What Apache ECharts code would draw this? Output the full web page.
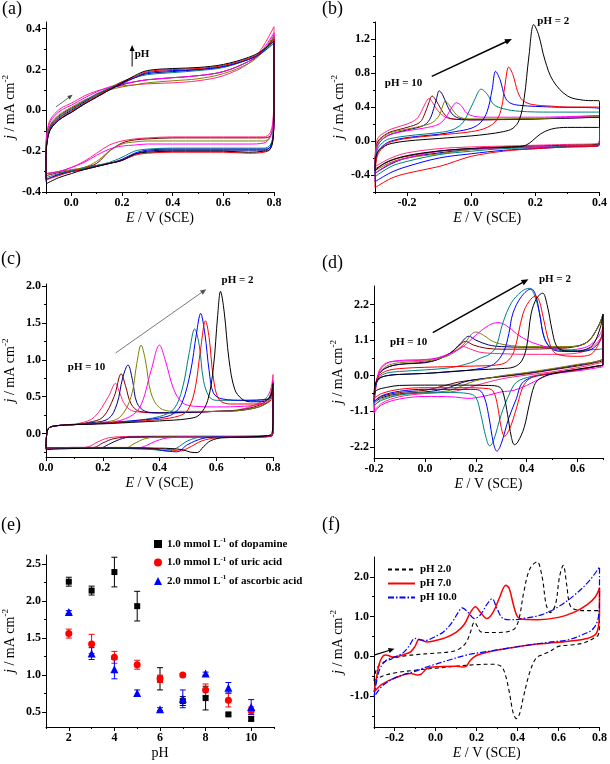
<!DOCTYPE html>
<html><head><meta charset="utf-8">
<script src="https://cdn.jsdelivr.net/npm/echarts@6/dist/echarts.min.js"></script>
<style>html,body{margin:0;padding:0;background:#fff}#c{width:610px;height:764px}</style>
</head><body><div id="c"></div>
<script>
// ---------------- DATA ----------------
// pH order of the CV families (a)-(d)
const PH_LIST = [2, 3, 4, 5, 6, 7, 8, 9, 10];

// (a) blank electrode CVs: shared potential grid (forward then reverse), current arrays per pH
const A_E = [-0.1,-0.1,-0.095,-0.085,-0.065,-0.035,0,0.05,0.1,0.15,0.2,0.25,0.3,0.4,0.5,0.6,0.7,0.75,0.8,
             0.8,0.797,0.785,0.76,0.7,0.6,0.5,0.4,0.3,0.25,0.2,0.15,0.1,0.05,0,-0.05,-0.1];
const A_PH2  = [-0.34,-0.22,-0.15,-0.1,-0.065,-0.035,-0.01,0.03,0.065,0.1,0.135,0.17,0.195,0.205,0.21,0.225,0.26,0.29,0.34,
                0.0,-0.13,-0.19,-0.2,-0.205,-0.2,-0.2,-0.2,-0.205,-0.215,-0.245,-0.26,-0.275,-0.29,-0.31,-0.33,-0.36];
const A_PH3  = [-0.34,-0.21,-0.145,-0.095,-0.06,-0.03,-0.005,0.035,0.07,0.105,0.14,0.165,0.19,0.2,0.205,0.22,0.255,0.285,0.35,
                0.0,-0.13,-0.19,-0.205,-0.21,-0.205,-0.205,-0.205,-0.21,-0.22,-0.245,-0.26,-0.275,-0.29,-0.3,-0.32,-0.34];
const A_PH4  = [-0.35,-0.22,-0.15,-0.1,-0.065,-0.035,-0.01,0.03,0.065,0.1,0.13,0.16,0.185,0.195,0.2,0.215,0.25,0.28,0.33,
                0.0,-0.12,-0.18,-0.19,-0.19,-0.19,-0.19,-0.19,-0.195,-0.21,-0.24,-0.26,-0.275,-0.29,-0.3,-0.315,-0.34];
const A_PH5  = [-0.33,-0.2,-0.135,-0.085,-0.05,-0.02,0.005,0.045,0.08,0.11,0.14,0.16,0.175,0.185,0.195,0.21,0.25,0.28,0.34,
                0.02,-0.11,-0.17,-0.185,-0.185,-0.185,-0.185,-0.185,-0.19,-0.2,-0.23,-0.255,-0.27,-0.285,-0.295,-0.31,-0.33];
const A_PH6  = [-0.3,-0.17,-0.11,-0.06,-0.025,0.005,0.025,0.06,0.09,0.115,0.13,0.14,0.15,0.16,0.17,0.19,0.24,0.29,0.38,
                0.1,-0.05,-0.13,-0.16,-0.165,-0.165,-0.165,-0.165,-0.165,-0.17,-0.175,-0.19,-0.22,-0.255,-0.28,-0.3,-0.31];
const A_PH7  = [-0.31,-0.19,-0.125,-0.075,-0.04,-0.01,0.015,0.05,0.075,0.1,0.115,0.125,0.135,0.145,0.155,0.18,0.23,0.28,0.37,
                0.08,-0.07,-0.13,-0.15,-0.15,-0.15,-0.15,-0.15,-0.15,-0.155,-0.165,-0.2,-0.25,-0.28,-0.29,-0.3,-0.31];
const A_PH8  = [-0.33,-0.21,-0.14,-0.09,-0.055,-0.025,0.0,0.04,0.075,0.105,0.135,0.16,0.18,0.19,0.2,0.215,0.25,0.285,0.35,
                0.0,-0.12,-0.18,-0.195,-0.195,-0.195,-0.195,-0.195,-0.2,-0.215,-0.245,-0.26,-0.27,-0.285,-0.3,-0.315,-0.34];
const A_PH9  = [-0.32,-0.2,-0.13,-0.08,-0.045,-0.015,0.01,0.045,0.08,0.105,0.125,0.14,0.15,0.16,0.17,0.19,0.24,0.28,0.36,
                0.05,-0.08,-0.125,-0.135,-0.135,-0.135,-0.135,-0.135,-0.14,-0.145,-0.16,-0.2,-0.26,-0.28,-0.295,-0.305,-0.32];
const A_PH10 = [-0.29,-0.16,-0.1,-0.05,-0.015,0.015,0.035,0.07,0.095,0.11,0.12,0.125,0.13,0.135,0.145,0.17,0.23,0.3,0.41,
                0.12,-0.03,-0.11,-0.13,-0.13,-0.13,-0.13,-0.13,-0.135,-0.14,-0.15,-0.17,-0.21,-0.25,-0.28,-0.3,-0.31];

// (b) [E, j] pairs per pH
const B_PH2 = [[-0.3,-0.35],[-0.298,-0.2],[-0.29,-0.12],[-0.27,-0.06],[-0.25,-0.03],[-0.2,0.0],[-0.1,0.03],[0,0.06],[0.05,0.08],[0.1,0.11],[0.13,0.15],[0.15,0.25],[0.165,0.5],[0.18,1.0],[0.195,1.37],[0.21,1.25],[0.23,0.95],[0.255,0.71],[0.3,0.53],[0.35,0.48],[0.4,0.47],
  [0.4,0.16],[0.395,0.16],[0.3,0.16],[0.25,0.14],[0.215,0.08],[0.19,0.0],[0.17,-0.05],[0.14,-0.07],[0.05,-0.08],[-0.05,-0.1],[-0.15,-0.14],[-0.22,-0.19],[-0.27,-0.26],[-0.3,-0.35]];
const B_PH3 = [[-0.3,-0.55],[-0.298,-0.3],[-0.29,-0.15],[-0.27,-0.06],[-0.25,-0.01],[-0.2,0.03],[-0.1,0.07],[0,0.11],[0.05,0.16],[0.08,0.25],[0.095,0.4],[0.105,0.65],[0.117,0.87],[0.13,0.78],[0.145,0.58],[0.16,0.48],[0.19,0.43],[0.25,0.41],[0.3,0.4],[0.4,0.4],
  [0.4,-0.03],[0.395,-0.06],[0.3,-0.07],[0.2,-0.09],[0.1,-0.12],[0,-0.18],[-0.05,-0.24],[-0.1,-0.3],[-0.2,-0.38],[-0.25,-0.44],[-0.3,-0.55]];
const B_PH4 = [[-0.3,-0.48],[-0.298,-0.25],[-0.29,-0.12],[-0.27,-0.04],[-0.25,0.0],[-0.2,0.04],[-0.1,0.08],[-0.05,0.11],[0,0.15],[0.03,0.22],[0.05,0.35],[0.065,0.6],[0.076,0.82],[0.09,0.72],[0.105,0.52],[0.12,0.45],[0.15,0.42],[0.25,0.4],[0.4,0.38],
  [0.4,-0.03],[0.395,-0.06],[0.3,-0.07],[0.2,-0.09],[0.1,-0.11],[0,-0.15],[-0.1,-0.2],[-0.2,-0.3],[-0.25,-0.37],[-0.3,-0.48]];
const B_PH5 = [[-0.3,-0.42],[-0.298,-0.2],[-0.29,-0.08],[-0.27,0.0],[-0.25,0.03],[-0.2,0.06],[-0.1,0.1],[-0.06,0.13],[-0.03,0.2],[-0.013,0.3],[0.01,0.48],[0.031,0.61],[0.05,0.55],[0.07,0.43],[0.1,0.38],[0.15,0.35],[0.25,0.34],[0.4,0.34],
  [0.4,-0.02],[0.395,-0.05],[0.3,-0.06],[0.2,-0.08],[0.1,-0.09],[0,-0.12],[-0.1,-0.16],[-0.2,-0.24],[-0.25,-0.3],[-0.3,-0.42]];
const B_PH6 = [[-0.3,-0.38],[-0.298,-0.15],[-0.29,-0.04],[-0.27,0.04],[-0.25,0.08],[-0.2,0.12],[-0.15,0.15],[-0.1,0.2],[-0.075,0.3],[-0.06,0.4],[-0.046,0.45],[-0.03,0.41],[-0.015,0.33],[0.01,0.29],[0.05,0.28],[0.2,0.28],[0.4,0.3],
  [0.4,0.0],[0.395,-0.05],[0.3,-0.06],[0.2,-0.07],[0.1,-0.08],[0,-0.09],[-0.1,-0.12],[-0.2,-0.2],[-0.25,-0.26],[-0.3,-0.38]];
const B_PH7 = [[-0.3,-0.35],[-0.298,-0.13],[-0.29,-0.02],[-0.27,0.06],[-0.25,0.1],[-0.2,0.14],[-0.15,0.18],[-0.12,0.22],[-0.1,0.3],[-0.09,0.4],[-0.081,0.47],[-0.07,0.43],[-0.055,0.35],[-0.04,0.29],[-0.01,0.26],[0.1,0.26],[0.25,0.27],[0.4,0.29],
  [0.4,0.0],[0.395,-0.05],[0.3,-0.06],[0.2,-0.07],[0.1,-0.08],[0,-0.1],[-0.1,-0.15],[-0.2,-0.2],[-0.25,-0.25],[-0.3,-0.35]];
const B_PH8 = [[-0.3,-0.38],[-0.298,-0.15],[-0.29,-0.04],[-0.27,0.04],[-0.25,0.08],[-0.2,0.13],[-0.15,0.18],[-0.13,0.25],[-0.117,0.38],[-0.108,0.5],[-0.1,0.59],[-0.09,0.55],[-0.075,0.42],[-0.06,0.32],[-0.04,0.27],[0,0.25],[0.2,0.26],[0.4,0.28],
  [0.4,0.0],[0.395,-0.05],[0.3,-0.06],[0.2,-0.07],[0.1,-0.08],[0,-0.1],[-0.1,-0.14],[-0.2,-0.2],[-0.25,-0.27],[-0.3,-0.38]];
const B_PH9 = [[-0.3,-0.33],[-0.298,-0.12],[-0.29,0.0],[-0.27,0.07],[-0.25,0.11],[-0.2,0.16],[-0.16,0.22],[-0.145,0.32],[-0.132,0.45],[-0.122,0.53],[-0.11,0.48],[-0.095,0.38],[-0.08,0.3],[-0.06,0.26],[0,0.25],[0.2,0.26],[0.4,0.28],
  [0.4,0.02],[0.395,-0.04],[0.3,-0.05],[0.2,-0.06],[0.1,-0.07],[0,-0.09],[-0.1,-0.12],[-0.2,-0.18],[-0.25,-0.23],[-0.3,-0.33]];
const B_PH10 = [[-0.3,-0.3],[-0.298,-0.08],[-0.29,0.04],[-0.27,0.1],[-0.25,0.14],[-0.2,0.2],[-0.17,0.26],[-0.155,0.35],[-0.142,0.45],[-0.132,0.5],[-0.12,0.45],[-0.105,0.36],[-0.085,0.29],[-0.06,0.26],[0,0.25],[0.2,0.26],[0.4,0.3],
  [0.4,0.04],[0.395,-0.03],[0.3,-0.04],[0.2,-0.05],[0.1,-0.06],[0,-0.07],[-0.1,-0.09],[-0.2,-0.14],[-0.25,-0.2],[-0.3,-0.3]];

// (c) [E, j] pairs per pH
const C_PH2 = [[0,-0.22],[0.003,0],[0.012,0.08],[0.05,0.11],[0.1,0.12],[0.2,0.13],[0.3,0.15],[0.4,0.17],[0.5,0.2],[0.54,0.25],[0.57,0.45],[0.59,0.9],[0.605,1.6],[0.615,1.93],[0.628,1.65],[0.645,1.0],[0.665,0.6],[0.69,0.47],[0.72,0.43],[0.76,0.43],[0.79,0.5],[0.8,0.68],
  [0.8,0.2],[0.796,0],[0.78,-0.03],[0.7,-0.05],[0.62,-0.06],[0.58,-0.1],[0.555,-0.18],[0.533,-0.26],[0.51,-0.255],[0.48,-0.22],[0.4,-0.2],[0.2,-0.2],[0.05,-0.21],[0,-0.22]];
const C_PH3 = [[0,-0.2],[0.003,0],[0.012,0.08],[0.05,0.11],[0.1,0.12],[0.2,0.14],[0.3,0.16],[0.4,0.19],[0.47,0.24],[0.5,0.32],[0.525,0.6],[0.545,1.15],[0.562,1.53],[0.575,1.3],[0.59,0.75],[0.61,0.46],[0.65,0.4],[0.7,0.4],[0.76,0.4],[0.79,0.44],[0.8,0.6],
  [0.8,0.1],[0.796,-0.03],[0.75,-0.05],[0.65,-0.05],[0.6,-0.06],[0.55,-0.1],[0.5,-0.2],[0.47,-0.24],[0.44,-0.22],[0.3,-0.19],[0.1,-0.19],[0,-0.2]];
const C_PH4 = [[0,-0.2],[0.003,0],[0.012,0.08],[0.05,0.11],[0.1,0.12],[0.2,0.14],[0.3,0.17],[0.4,0.21],[0.45,0.27],[0.48,0.42],[0.51,0.85],[0.53,1.35],[0.545,1.63],[0.56,1.35],[0.575,0.85],[0.59,0.55],[0.62,0.47],[0.7,0.45],[0.78,0.46],[0.8,0.55],
  [0.8,0.1],[0.796,-0.03],[0.7,-0.05],[0.6,-0.05],[0.55,-0.07],[0.5,-0.15],[0.46,-0.25],[0.43,-0.24],[0.35,-0.2],[0.1,-0.19],[0,-0.2]];
const C_PH5 = [[0,-0.2],[0.003,0],[0.012,0.08],[0.05,0.11],[0.1,0.12],[0.2,0.14],[0.3,0.17],[0.4,0.23],[0.45,0.33],[0.48,0.6],[0.505,1.1],[0.524,1.42],[0.54,1.2],[0.555,0.72],[0.575,0.5],[0.6,0.45],[0.7,0.45],[0.78,0.47],[0.8,0.6],
  [0.8,0.1],[0.796,-0.03],[0.7,-0.05],[0.55,-0.05],[0.5,-0.1],[0.46,-0.2],[0.43,-0.24],[0.38,-0.22],[0.2,-0.2],[0,-0.2]];
const C_PH6 = [[0,-0.21],[0.003,0],[0.012,0.08],[0.05,0.11],[0.1,0.12],[0.2,0.14],[0.28,0.2],[0.33,0.35],[0.37,0.85],[0.4,1.2],[0.42,1.0],[0.45,0.6],[0.48,0.42],[0.52,0.37],[0.6,0.36],[0.7,0.37],[0.78,0.45],[0.8,0.72],
  [0.8,0.15],[0.796,-0.02],[0.7,-0.05],[0.5,-0.05],[0.43,-0.06],[0.39,-0.1],[0.35,-0.17],[0.32,-0.2],[0.2,-0.2],[0,-0.21]];
const C_PH7 = [[0,-0.2],[0.003,0],[0.012,0.08],[0.05,0.11],[0.1,0.12],[0.2,0.15],[0.26,0.22],[0.3,0.5],[0.32,0.95],[0.335,1.2],[0.35,1.0],[0.37,0.55],[0.4,0.35],[0.45,0.3],[0.6,0.3],[0.7,0.32],[0.78,0.42],[0.8,0.65],
  [0.8,0.12],[0.796,-0.03],[0.6,-0.05],[0.4,-0.05],[0.35,-0.07],[0.31,-0.14],[0.28,-0.2],[0.2,-0.2],[0,-0.2]];
const C_PH8 = [[0,-0.2],[0.003,0],[0.012,0.08],[0.05,0.11],[0.1,0.12],[0.15,0.14],[0.22,0.2],[0.25,0.4],[0.27,0.75],[0.289,0.93],[0.305,0.72],[0.32,0.42],[0.35,0.3],[0.4,0.28],[0.6,0.3],[0.7,0.32],[0.78,0.42],[0.8,0.62],
  [0.8,0.1],[0.796,-0.03],[0.5,-0.05],[0.3,-0.05],[0.26,-0.08],[0.22,-0.15],[0.19,-0.2],[0.1,-0.2],[0,-0.2]];
const C_PH9 = [[0,-0.2],[0.003,0],[0.012,0.08],[0.05,0.11],[0.1,0.12],[0.15,0.15],[0.2,0.22],[0.24,0.5],[0.265,0.81],[0.28,0.65],[0.3,0.4],[0.33,0.3],[0.4,0.28],[0.6,0.3],[0.7,0.33],[0.78,0.45],[0.8,0.7],
  [0.8,0.1],[0.796,-0.03],[0.3,-0.05],[0.24,-0.07],[0.2,-0.13],[0.17,-0.19],[0.1,-0.2],[0,-0.2]];
const C_PH10 = [[0,-0.2],[0.003,0],[0.012,0.08],[0.05,0.11],[0.12,0.14],[0.17,0.22],[0.22,0.5],[0.245,0.68],[0.26,0.55],[0.28,0.38],[0.31,0.3],[0.4,0.28],[0.6,0.3],[0.7,0.34],[0.78,0.5],[0.8,0.8],
  [0.8,0.15],[0.796,-0.03],[0.3,-0.04],[0.22,-0.06],[0.18,-0.12],[0.15,-0.18],[0.1,-0.2],[0,-0.2]];

// (d) [E, j] pairs per pH
const D_PH2 = [[-0.2,-0.6],[-0.195,-0.25],[-0.18,-0.08],[-0.15,0.0],[-0.1,0.04],[0,0.07],[0.1,0.13],[0.2,0.18],[0.3,0.22],[0.35,0.27],[0.38,0.45],[0.4,0.9],[0.418,1.93],[0.44,2.4],[0.463,2.55],[0.48,2.2],[0.5,1.4],[0.515,0.95],[0.535,0.8],[0.58,0.75],[0.62,0.78],[0.66,0.95],[0.69,1.5],[0.7,1.9],
  [0.7,0.35],[0.68,0.3],[0.6,0.2],[0.5,0.06],[0.45,-0.1],[0.43,-0.3],[0.41,-0.9],[0.39,-1.6],[0.365,-2.05],[0.352,-2.13],[0.34,-1.9],[0.325,-1.2],[0.31,-0.6],[0.295,-0.36],[0.25,-0.3],[0.1,-0.29],[0,-0.29],[-0.1,-0.3],[-0.15,-0.36],[-0.19,-0.45],[-0.2,-0.6]];
const D_PH3 = [[-0.2,-0.7],[-0.195,-0.3],[-0.18,0.0],[-0.15,0.15],[-0.1,0.22],[0,0.26],[0.1,0.28],[0.2,0.3],[0.28,0.33],[0.32,0.42],[0.35,0.75],[0.385,1.9],[0.41,2.3],[0.435,2.46],[0.45,2.3],[0.465,1.8],[0.49,1.0],[0.52,0.66],[0.6,0.6],[0.65,0.65],[0.69,1.1],[0.7,1.5],
  [0.7,0.35],[0.68,0.3],[0.6,0.18],[0.5,0.08],[0.44,0.0],[0.41,-0.1],[0.385,-0.35],[0.36,-1.0],[0.335,-1.6],[0.313,-1.87],[0.3,-1.6],[0.285,-0.9],[0.27,-0.5],[0.25,-0.4],[0.15,-0.37],[0,-0.37],[-0.1,-0.42],[-0.17,-0.55],[-0.2,-0.7]];
const D_PH4 = [[-0.2,-0.8],[-0.195,-0.35],[-0.18,-0.1],[-0.15,0.0],[-0.1,0.04],[0,0.07],[0.1,0.12],[0.2,0.2],[0.27,0.35],[0.31,0.75],[0.33,1.3],[0.346,1.93],[0.38,2.45],[0.418,2.68],[0.435,2.5],[0.45,1.95],[0.47,1.15],[0.5,0.82],[0.55,0.75],[0.6,0.75],[0.65,0.8],[0.69,1.1],[0.7,1.5],
  [0.7,0.35],[0.68,0.3],[0.6,0.18],[0.5,0.06],[0.42,-0.05],[0.38,-0.25],[0.36,-0.7],[0.33,-1.3],[0.3,-2.1],[0.283,-2.33],[0.27,-2.1],[0.25,-1.2],[0.235,-0.7],[0.215,-0.45],[0.18,-0.42],[0.1,-0.42],[0,-0.42],[-0.1,-0.48],[-0.17,-0.62],[-0.2,-0.8]];
const D_PH5 = [[-0.2,-0.9],[-0.195,-0.4],[-0.18,-0.05],[-0.15,0.08],[-0.1,0.13],[0,0.18],[0.1,0.25],[0.18,0.4],[0.22,0.55],[0.254,0.66],[0.28,0.9],[0.306,1.62],[0.34,2.25],[0.38,2.6],[0.41,2.7],[0.43,2.5],[0.45,1.95],[0.47,1.15],[0.5,0.85],[0.55,0.78],[0.6,0.78],[0.65,0.8],[0.69,0.82],[0.7,0.85],
  [0.7,0.35],[0.68,0.3],[0.6,0.2],[0.5,0.08],[0.42,-0.02],[0.36,-0.2],[0.33,-0.6],[0.3,-1.2],[0.27,-2.0],[0.255,-2.17],[0.24,-1.9],[0.22,-1.2],[0.2,-0.66],[0.17,-0.55],[0.1,-0.52],[0,-0.53],[-0.1,-0.6],[-0.17,-0.76],[-0.2,-0.92]];
const D_PH6 = [[-0.2,-1.15],[-0.195,-0.5],[-0.18,0.1],[-0.15,0.38],[-0.1,0.47],[0,0.5],[0.05,0.55],[0.1,0.68],[0.15,0.9],[0.2,1.25],[0.25,1.55],[0.287,1.64],[0.32,1.55],[0.36,1.3],[0.4,1.1],[0.45,0.95],[0.5,0.85],[0.55,0.8],[0.6,0.82],[0.65,0.95],[0.69,1.3],[0.7,1.5],
  [0.7,0.3],[0.68,0.25],[0.6,0.15],[0.5,0.05],[0.45,-0.1],[0.4,-0.3],[0.35,-0.45],[0.3,-0.5],[0.25,-0.6],[0.2,-0.68],[0.169,-0.7],[0.12,-0.66],[0.05,-0.64],[0,-0.64],[-0.1,-0.72],[-0.17,-0.9],[-0.2,-1.15]];
const D_PH7 = [[-0.2,-0.95],[-0.195,-0.45],[-0.18,0.05],[-0.15,0.3],[-0.1,0.4],[0,0.45],[0.05,0.52],[0.1,0.65],[0.15,0.95],[0.2,1.35],[0.23,1.25],[0.27,1.05],[0.32,0.95],[0.4,0.9],[0.5,0.9],[0.58,0.9],[0.64,1.05],[0.68,1.5],[0.7,1.9],
  [0.7,0.55],[0.68,0.45],[0.6,0.35],[0.5,0.22],[0.4,0.1],[0.3,0.0],[0.25,-0.08],[0.2,-0.15],[0.15,-0.3],[0.1,-0.45],[0.05,-0.5],[0,-0.52],[-0.1,-0.58],[-0.17,-0.72],[-0.2,-0.95]];
const D_PH8 = [[-0.2,-0.85],[-0.195,-0.4],[-0.18,0.05],[-0.15,0.25],[-0.1,0.35],[0,0.4],[0.05,0.5],[0.1,0.7],[0.14,1.0],[0.173,1.22],[0.2,1.1],[0.25,0.95],[0.3,0.9],[0.4,0.88],[0.5,0.88],[0.58,0.9],[0.64,1.05],[0.68,1.5],[0.7,1.9],
  [0.7,0.55],[0.68,0.45],[0.6,0.33],[0.5,0.2],[0.4,0.08],[0.3,-0.02],[0.2,-0.12],[0.15,-0.2],[0.1,-0.35],[0.05,-0.45],[0,-0.5],[-0.1,-0.56],[-0.17,-0.68],[-0.2,-0.85]];
const D_PH9 = [[-0.2,-0.8],[-0.195,-0.35],[-0.18,0.05],[-0.15,0.25],[-0.1,0.35],[0,0.42],[0.05,0.5],[0.1,0.7],[0.13,0.9],[0.16,1.06],[0.19,0.95],[0.24,0.85],[0.3,0.82],[0.4,0.82],[0.5,0.84],[0.58,0.88],[0.64,1.05],[0.68,1.5],[0.7,1.85],
  [0.7,0.5],[0.68,0.42],[0.6,0.3],[0.5,0.18],[0.4,0.06],[0.3,-0.03],[0.2,-0.12],[0.13,-0.2],[0.08,-0.3],[0.03,-0.4],[0,-0.45],[-0.1,-0.52],[-0.17,-0.64],[-0.2,-0.8]];
const D_PH10 = [[-0.2,-1.1],[-0.195,-0.5],[-0.18,0.15],[-0.15,0.4],[-0.1,0.45],[0,0.48],[0.05,0.55],[0.1,0.7],[0.13,0.82],[0.15,0.9],[0.18,0.82],[0.22,0.72],[0.3,0.68],[0.4,0.66],[0.5,0.66],[0.6,0.7],[0.65,0.85],[0.69,1.15],[0.7,1.4],
  [0.7,0.45],[0.68,0.38],[0.6,0.25],[0.5,0.12],[0.4,0.02],[0.3,-0.1],[0.2,-0.3],[0.15,-0.42],[0.1,-0.5],[0,-0.55],[-0.1,-0.65],[-0.17,-0.85],[-0.2,-1.1]];

// (e) peak current vs pH
const E_PH = [2, 3, 4, 5, 6, 7, 8, 9, 10];
const E_NAMES = ['1.0 mmol L-1 of dopamine', '1.0 mmol L-1 of uric acid', '2.0 mmol L-1 of ascorbic acid'];
const DA_J   = [2.26, 2.14, 2.39, 1.93, 0.95, 0.65, 0.69, 0.47, 0.41];
const DA_ERR = [0.06, 0.06, 0.2, 0.2, 0.15, 0.06, 0.16, 0.02, 0.03];
const UA_J   = [1.56, 1.42, 1.24, 1.14, 0.95, 1.0, 0.8, 0.66, 0.52];
const UA_ERR = [0.06, 0.13, 0.08, 0.06, 0.05, 0.02, 0.08, 0.09, 0.05];
const AA_J   = [1.85, 1.29, 1.08, 0.76, 0.54, 0.68, 1.02, 0.83, 0.57];
const AA_ERR = [0.02, 0.08, 0.13, 0.04, 0.02, 0.12, 0.02, 0.07, 0.1];

// (f) mixture CVs
const F_NAMES = ['pH 2.0', 'pH 7.0', 'pH 10.0'];
const F_PH2 = [[-0.3,-0.62],[-0.29,-0.35],[-0.27,-0.2],[-0.24,-0.12],[-0.2,-0.04],[-0.15,0.01],[-0.1,0.04],[0,0.08],[0.08,0.12],[0.12,0.2],[0.15,0.35],[0.17,0.6],[0.19,0.86],[0.205,0.75],[0.22,0.62],[0.25,0.6],[0.3,0.6],[0.36,0.63],[0.39,0.72],[0.41,1.0],[0.43,1.6],[0.46,2.2],[0.495,2.38],[0.52,2.0],[0.54,1.3],[0.56,1.1],[0.585,1.3],[0.605,2.0],[0.623,2.29],[0.64,1.8],[0.655,1.3],[0.68,1.18],[0.74,1.15],[0.8,1.15],
  [0.8,0.8],[0.795,0.55],[0.77,0.45],[0.72,0.33],[0.65,0.28],[0.6,0.25],[0.55,0.1],[0.52,0.04],[0.49,-0.05],[0.46,-0.4],[0.43,-1.0],[0.41,-1.45],[0.395,-1.57],[0.38,-1.45],[0.36,-0.9],[0.34,-0.45],[0.32,-0.25],[0.28,-0.2],[0.2,-0.21],[0.1,-0.25],[0,-0.3],[-0.1,-0.35],[-0.2,-0.42],[-0.26,-0.5],[-0.3,-0.62]];
const F_PH7 = [[-0.3,-0.9],[-0.29,-0.6],[-0.275,-0.2],[-0.26,-0.02],[-0.245,0.03],[-0.23,0.02],[-0.21,-0.02],[-0.18,0.0],[-0.15,0.05],[-0.12,0.12],[-0.1,0.25],[-0.08,0.43],[-0.065,0.4],[-0.04,0.36],[0,0.4],[0.05,0.47],[0.1,0.6],[0.14,0.8],[0.17,1.1],[0.195,1.25],[0.22,1.1],[0.25,0.95],[0.28,1.1],[0.31,1.45],[0.343,1.79],[0.36,1.7],[0.38,1.3],[0.4,1.0],[0.43,0.93],[0.5,0.92],[0.6,0.98],[0.68,1.12],[0.74,1.3],[0.78,1.5],[0.8,1.72],
  [0.8,1.2],[0.795,0.75],[0.78,0.55],[0.74,0.45],[0.65,0.38],[0.55,0.33],[0.45,0.28],[0.35,0.2],[0.25,0.1],[0.2,0.02],[0.17,-0.1],[0.15,-0.25],[0.13,-0.27],[0.1,-0.25],[0.02,-0.26],[-0.04,-0.3],[-0.07,-0.45],[-0.09,-0.47],[-0.12,-0.43],[-0.2,-0.55],[-0.26,-0.7],[-0.3,-0.9]];
const F_PH10 = [[-0.3,-1.03],[-0.29,-0.7],[-0.27,-0.3],[-0.24,-0.1],[-0.2,-0.02],[-0.16,0.08],[-0.13,0.25],[-0.1,0.45],[-0.08,0.42],[-0.05,0.4],[0,0.5],[0.04,0.62],[0.08,0.85],[0.11,1.1],[0.13,1.22],[0.16,1.1],[0.19,0.95],[0.22,1.05],[0.25,1.3],[0.276,1.45],[0.3,1.2],[0.33,0.95],[0.37,0.92],[0.45,0.97],[0.52,1.05],[0.6,1.25],[0.68,1.55],[0.75,1.9],[0.8,2.25],
  [0.8,1.6],[0.795,1.0],[0.77,0.7],[0.72,0.55],[0.65,0.42],[0.55,0.35],[0.45,0.28],[0.35,0.2],[0.25,0.12],[0.15,0.03],[0.05,-0.12],[0,-0.2],[-0.05,-0.28],[-0.1,-0.38],[-0.15,-0.45],[-0.2,-0.55],[-0.26,-0.75],[-0.3,-1.03]];

// tick values per panel
const TICKS = {
  a: {x: [0, 0.2, 0.4, 0.6, 0.8], xm: [-0.1, 0.1, 0.3, 0.5, 0.7], y: [-0.4, -0.2, 0, 0.2, 0.4], ym: [-0.3, -0.1, 0.1, 0.3]},
  b: {x: [-0.2, 0, 0.2, 0.4], xm: [-0.3, -0.1, 0.1, 0.3], y: [-0.4, 0, 0.4, 0.8, 1.2], ym: [-0.6, -0.2, 0.2, 0.6, 1.0, 1.4]},
  c: {x: [0, 0.2, 0.4, 0.6, 0.8], xm: [0.1, 0.3, 0.5, 0.7], y: [0, 0.5, 1.0, 1.5, 2.0], ym: [-0.25, 0.25, 0.75, 1.25, 1.75]},
  d: {x: [-0.2, 0, 0.2, 0.4, 0.6], xm: [-0.1, 0.1, 0.3, 0.5, 0.7], y: [-2.2, -1.1, 0, 1.1, 2.2], ym: [-1.65, -0.55, 0.55, 1.65]},
  e: {x: [2, 4, 6, 8, 10], xm: [1, 3, 5, 7, 9, 11], y: [0.5, 1.0, 1.5, 2.0, 2.5], ym: [0.75, 1.25, 1.75, 2.25]},
  f: {x: [-0.2, 0, 0.2, 0.4, 0.6, 0.8], xm: [-0.3, -0.1, 0.1, 0.3, 0.5, 0.7], y: [-1, 0, 1, 2], ym: [-1.5, -0.5, 0.5, 1.5]}
};

// annotations (data coordinates)
const ARROWS = [
  [0, -0.061, 0.017, 0.005, 0.076, '#444', 0.8, 5],
  [0, 0.24, 0.215, 0.24, 0.32, '#000', 1, 6],
  [1, -0.123, 0.76, 0.127, 1.2, '#000', 1.5, 7],
  [2, 0.245, 1.092, 0.565, 1.96, '#555', 0.8, 6],
  [3, 0.031, 1.33, 0.407, 2.98, '#000', 1.5, 7],
  [5, -0.3, 0.03, -0.2, 0.19, '#000', 1.2, 6]
];
const LABELS = [
  [0, 0.25, 0.276, 'pH', 'left'],
  [1, -0.211, 0.677, 'pH = 10', 'center'],
  [1, 0.256, 1.415, 'pH = 2', 'center'],
  [2, 0.143, 0.894, 'pH = 10', 'center'],
  [2, 0.675, 2.087, 'pH = 2', 'center'],
  [3, -0.064, 1.026, 'pH = 10', 'center'],
  [3, 0.511, 2.98, 'pH = 2', 'center']
];

// ---------------- STYLE / LAYOUT ----------------
const FONT = '"Liberation Serif", "Times New Roman", serif';
const PH_COLORS = ['#000000', '#ff0000', '#0000ff', '#008080', '#ff00ff', '#808000', '#000080', '#800000', '#ff2a80'];
const GRIDS = [
  {left: 44, top: 22, width: 230, height: 170},
  {left: 375, top: 22, width: 228, height: 170},
  {left: 44, top: 284, width: 229, height: 173},
  {left: 374, top: 286, width: 229, height: 172},
  {left: 44, top: 555, width: 230, height: 172},
  {left: 374, top: 557, width: 229, height: 170}
];
const RANGES = [
  {x: [-0.1, 0.8], y: [-0.4, 0.433]},
  {x: [-0.3, 0.4], y: [-0.6, 1.4]},
  {x: [0, 0.8], y: [-0.32, 2.03]},
  {x: [-0.2, 0.7], y: [-2.54, 2.77]},
  {x: [1, 11], y: [0.3, 2.62]},
  {x: [-0.3, 0.8], y: [-1.78, 2.5]}
];
const PANEL_KEYS = ['a', 'b', 'c', 'd', 'e', 'f'];
const PANEL_LABEL_POS = [[2, 0], [322, 0], [1, 250], [322, 254], [1, 516], [322, 516]];

const nameStyle = {
  fontFamily: FONT, fontSize: 14, fontWeight: 'normal', color: '#000',
  rich: {
    i: {fontFamily: FONT, fontSize: 14, fontWeight: 'normal', fontStyle: 'italic', color: '#000'},
    t: {fontFamily: FONT, fontSize: 14, fontWeight: 'normal', color: '#000'},
    s: {fontFamily: FONT, fontSize: 9, fontWeight: 'normal', color: '#000', padding: [0, 0, 9, 0]}
  }
};
const fmt1 = v => v.toFixed(1);
const fmt0 = v => String(Math.round(v));

const xAxes = [], yAxes = [];
PANEL_KEYS.forEach((k, g) => {
  const t = TICKS[k], r = RANGES[g];
  const isE = k === 'e';
  const base = (dim, min, max, majors, minors, fmt, name, gap) => {
    const pos = dim === 'x' ? 'bottom' : 'left';
    return [{
      type: 'value', gridIndex: g, min, max, position: pos,
      axisLine: {show: true, onZero: false, lineStyle: {color: '#000', width: 1}},
      axisTick: {show: true, inside: false, length: 4, customValues: majors, lineStyle: {color: '#000', width: 1}},
      axisLabel: {show: true, customValues: majors, formatter: fmt, color: '#000', fontFamily: FONT, fontWeight: 'bold', fontSize: 12, margin: 5},
      splitLine: {show: false}, minorTick: {show: false},
      name, nameLocation: 'middle', nameGap: gap, nameTextStyle: nameStyle
    }, {
      type: 'value', gridIndex: g, min, max, position: pos,
      axisLine: {show: false, onZero: false},
      axisTick: {show: true, inside: false, length: 2, customValues: minors, lineStyle: {color: '#000', width: 1}},
      axisLabel: {show: false}, splitLine: {show: false}
    }];
  };
  xAxes.push(...base('x', r.x[0], r.x[1], t.x, t.xm, isE ? fmt0 : fmt1, isE ? '{t|pH}' : '{i|E}{t| / V (SCE)}', 19));
  yAxes.push(...base('y', r.y[0], r.y[1], t.y, t.ym, fmt1, '{i|j}{t| / mA cm}{s|-2}', 27));
});

// ---------------- SERIES ----------------
const series = [];
function cvSeries(g, curves) {
  for (let i = curves.length - 1; i >= 0; i--) {
    series.push({
      type: 'line', name: PANEL_KEYS[g] + '-pH' + PH_LIST[i], xAxisIndex: 2 * g, yAxisIndex: 2 * g,
      data: curves[i], symbol: 'none', showSymbol: false, smooth: 0.35,
      lineStyle: {width: 1, color: PH_COLORS[i]}, itemStyle: {color: PH_COLORS[i]},
      silent: true, animation: false
    });
  }
}
const A_CURVES = [A_PH2, A_PH3, A_PH4, A_PH5, A_PH6, A_PH7, A_PH8, A_PH9, A_PH10]
  .map(arr => arr.map((j, k) => [A_E[k], j]));
cvSeries(0, A_CURVES);
cvSeries(1, [B_PH2, B_PH3, B_PH4, B_PH5, B_PH6, B_PH7, B_PH8, B_PH9, B_PH10]);
cvSeries(2, [C_PH2, C_PH3, C_PH4, C_PH5, C_PH6, C_PH7, C_PH8, C_PH9, C_PH10]);
cvSeries(3, [D_PH2, D_PH3, D_PH4, D_PH5, D_PH6, D_PH7, D_PH8, D_PH9, D_PH10]);

// (e) error bars + markers
const E_SETS = [
  {name: E_NAMES[0], j: DA_J, err: DA_ERR, color: '#000000', symbol: 'rect', size: 6},
  {name: E_NAMES[1], j: UA_J, err: UA_ERR, color: '#ff0000', symbol: 'circle', size: 7},
  {name: E_NAMES[2], j: AA_J, err: AA_ERR, color: '#0000ff', symbol: 'triangle', size: 8}
];
E_SETS.forEach(s => {
  series.push({
    type: 'custom', name: s.name + ' err', xAxisIndex: 8, yAxisIndex: 8, silent: true, animation: false,
    data: E_PH.map((p, k) => [p, s.j[k] - s.err[k], s.j[k] + s.err[k]]),
    encode: {x: 0, y: [1, 2]},
    renderItem: (params, api) => {
      const x = api.value(0), lo = api.coord([x, api.value(1)]), hi = api.coord([x, api.value(2)]);
      const w = 3, st = {stroke: s.color, lineWidth: 1};
      return {type: 'group', children: [
        {type: 'line', shape: {x1: lo[0], y1: lo[1], x2: hi[0], y2: hi[1]}, style: st},
        {type: 'line', shape: {x1: lo[0] - w, y1: lo[1], x2: lo[0] + w, y2: lo[1]}, style: st},
        {type: 'line', shape: {x1: hi[0] - w, y1: hi[1], x2: hi[0] + w, y2: hi[1]}, style: st}
      ]};
    }
  });
});
E_SETS.forEach(s => {
  series.push({
    type: 'scatter', name: s.name, xAxisIndex: 8, yAxisIndex: 8, animation: false,
    data: E_PH.map((p, k) => [p, s.j[k]]), symbol: s.symbol, symbolSize: s.size,
    itemStyle: {color: s.color, opacity: 1}, z: 3
  });
});

// (f)
const F_STYLES = [
  {color: '#000000', type: [4, 3], width: 1.1},
  {color: '#ff0000', type: 'solid', width: 1.5},
  {color: '#0000ff', type: [6, 2, 1.5, 2], width: 1.2}
];
[F_PH2, F_PH7, F_PH10].forEach((d, i) => {
  series.push({
    type: 'line', name: F_NAMES[i], xAxisIndex: 10, yAxisIndex: 10, data: d,
    symbol: 'none', showSymbol: false, smooth: 0.35, animation: false, silent: true,
    lineStyle: {color: F_STYLES[i].color, type: F_STYLES[i].type, width: F_STYLES[i].width},
    itemStyle: {color: F_STYLES[i].color}
  });
});

const legendText = {fontFamily: FONT, fontSize: 11, fontWeight: 'bold', color: '#000',
  rich: {s: {fontFamily: FONT, fontSize: 7, fontWeight: 'bold', color: '#000', padding: [0, 0, 7, 0]}}};

const option = {
  animation: false,
  backgroundColor: '#fff',
  grid: GRIDS.map(g => Object.assign({containLabel: false}, g)),
  xAxis: xAxes,
  yAxis: yAxes,
  legend: [
    {data: E_NAMES, orient: 'vertical', left: 149, top: 532, itemWidth: 8, itemHeight: 8, itemGap: 6,
     selectedMode: false, textStyle: legendText, formatter: n => n.replace('L-1', 'L{s|-1}')},
    {data: F_NAMES, orient: 'vertical', left: 382, top: 559, itemWidth: 27, itemHeight: 10, itemGap: 3,
     selectedMode: false, textStyle: legendText, itemStyle: {opacity: 0, borderWidth: 0}}
  ],
  series
};

const chart = echarts.init(document.getElementById('c'), null, {renderer: 'canvas'});
chart.setOption(option);

// ---------------- ANNOTATIONS ----------------
const gfx = [];
PANEL_KEYS.forEach((k, g) => {
  gfx.push({type: 'text', left: PANEL_LABEL_POS[g][0], top: PANEL_LABEL_POS[g][1], z: 100,
    style: {text: '(' + k + ')', font: 'normal 18px ' + FONT, fill: '#000'}});
});
const px = (g, x, y) => chart.convertToPixel({xAxisIndex: 2 * g, yAxisIndex: 2 * g}, [x, y]);
ARROWS.forEach(([g, x1, y1, x2, y2, color, w, head]) => {
  const p1 = px(g, x1, y1), p2 = px(g, x2, y2);
  const dx = p2[0] - p1[0], dy = p2[1] - p1[1], L = Math.hypot(dx, dy), ux = dx / L, uy = dy / L;
  const hw = head * 0.42, bx = p2[0] - ux * head, by = p2[1] - uy * head;
  gfx.push({type: 'line', z: 100, silent: true, shape: {x1: p1[0], y1: p1[1], x2: bx + ux, y2: by + uy}, style: {stroke: color, lineWidth: w}});
  gfx.push({type: 'polygon', z: 100, silent: true, shape: {points: [[p2[0], p2[1]], [bx - uy * hw, by + ux * hw], [bx + uy * hw, by - ux * hw]]}, style: {fill: color}});
});
LABELS.forEach(([g, x, y, txt, align]) => {
  const p = px(g, x, y);
  gfx.push({type: 'text', x: p[0], y: p[1], z: 100, silent: true,
    style: {text: txt, font: 'bold 11px ' + FONT, fill: '#000', align: align, verticalAlign: 'middle'}});
});
chart.setOption({graphic: gfx});
</script></body></html>
